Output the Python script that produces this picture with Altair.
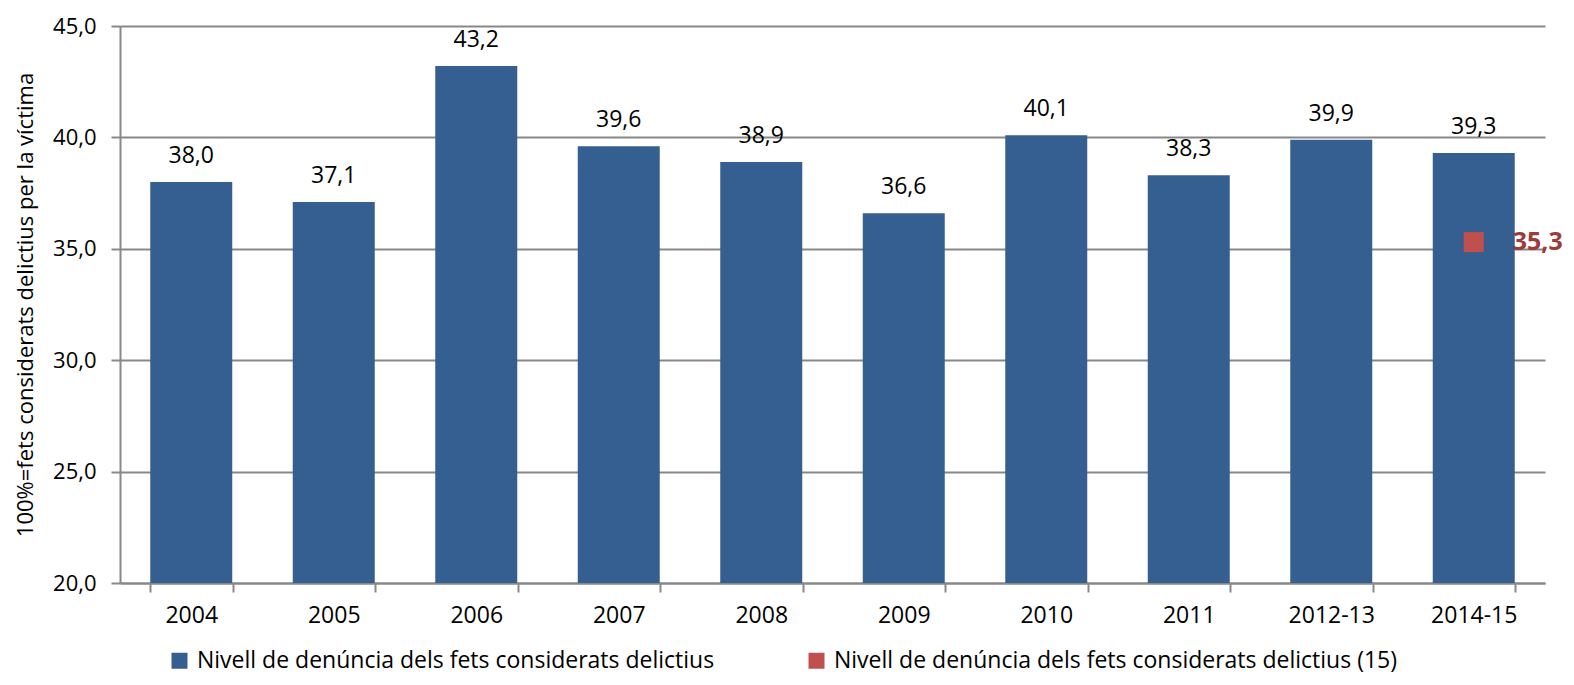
import altair as alt
import pandas as pd

categories = ["2004", "2005", "2006", "2007", "2008", "2009", "2010", "2011", "2012-13", "2014-15"]
values = [38.0, 37.1, 43.2, 39.6, 38.9, 36.6, 40.1, 38.3, 39.9, 39.3]
series_main = "Nivell de denúncia dels fets considerats delictius"
series_15 = "Nivell de denúncia dels fets considerats delictius (15)"
point_categories = ["2014-15"]
point_values = [35.3]
y_title = "100%=fets considerats delictius per la víctima"

FONT = "Open Sans"
BLUE = "#365F91"
RED = "#C0504D"
GRID = "#888888"

bars_df = pd.DataFrame({"cat": categories, "value": values, "series": series_main})
pt_df = pd.DataFrame({"cat": point_categories, "value": point_values, "series": series_15})

fmt = "replace(format(datum.value, '.1f'), '.', ',')"

x_enc = alt.X(
    "cat:N",
    sort=categories,
    title=None,
    scale=alt.Scale(paddingInner=0.42, paddingOuter=0.21),
    axis=alt.Axis(
        labelAngle=0,
        labelFontSize=23,
        labelColor="black",
        labelFont=FONT,
        labelPadding=12,
        tickBand="extent",
        tickSize=9,
        tickColor=GRID,
        tickWidth=2,
        domainColor=GRID,
        domainWidth=2,
        grid=False,
    ),
)
y_enc = alt.Y(
    "value:Q",
    title=y_title,
    scale=alt.Scale(domain=[20, 45], nice=False, zero=False),
    axis=alt.Axis(
        values=[20, 25, 30, 35, 40, 45],
        labelExpr=fmt,
        labelFontSize=22,
        labelColor="black",
        labelFont=FONT,
        labelPadding=15,
        tickSize=9,
        tickColor=GRID,
        tickWidth=2,
        domainColor=GRID,
        domainWidth=2,
        grid=True,
        gridColor=GRID,
        gridWidth=2,
        titleFont=FONT,
        titleFontSize=22,
        titleFontWeight="normal",
        titleColor="black",
        titlePadding=15,
    ),
)
color_enc = alt.Color(
    "series:N",
    scale=alt.Scale(domain=[series_main, series_15], range=[BLUE, RED]),
    legend=alt.Legend(
        title=None,
        orient="none",
        direction="horizontal",
        legendX=48,
        legendY=623,
        symbolType="square",
        symbolSize=256,
        symbolStrokeWidth=0,
        labelFontSize=23,
        labelFont=FONT,
        labelColor="black",
        labelLimit=0,
        labelOffset=6,
        columnPadding=90,
        padding=0,
    ),
)

bars = alt.Chart(bars_df).mark_bar(size=82).encode(
    x=x_enc, y=y_enc, y2=alt.datum(20), color=color_enc
)
bar_text = alt.Chart(bars_df).transform_calculate(
    label=fmt
).mark_text(baseline="alphabetic", dy=-19, fontSize=23, font=FONT, color="black").encode(
    x=alt.X("cat:N", sort=categories), y="value:Q", text="label:N"
)
point = alt.Chart(pt_df).mark_point(shape="square", filled=True, size=400, opacity=1).encode(
    x=alt.X("cat:N", sort=categories), y="value:Q", color=color_enc
)
point_text = alt.Chart(pt_df).transform_calculate(
    label=fmt
).mark_text(align="left", baseline="middle", dx=39, fontSize=25, fontWeight="bold", font=FONT, color="#9C3B38").encode(
    x=alt.X("cat:N", sort=categories), y="value:Q", text="label:N"
)

chart = alt.layer(bars, bar_text, point, point_text).properties(
    width=1425,
    height=557,
    autosize=alt.AutoSizeParams(type="none"),
    padding={"left": 112, "top": 18, "right": 21, "bottom": 94},
    background="white",
).configure_view(stroke=None)

chart.save("out.html", embed_options={"renderer": "svg", "actions": False})
